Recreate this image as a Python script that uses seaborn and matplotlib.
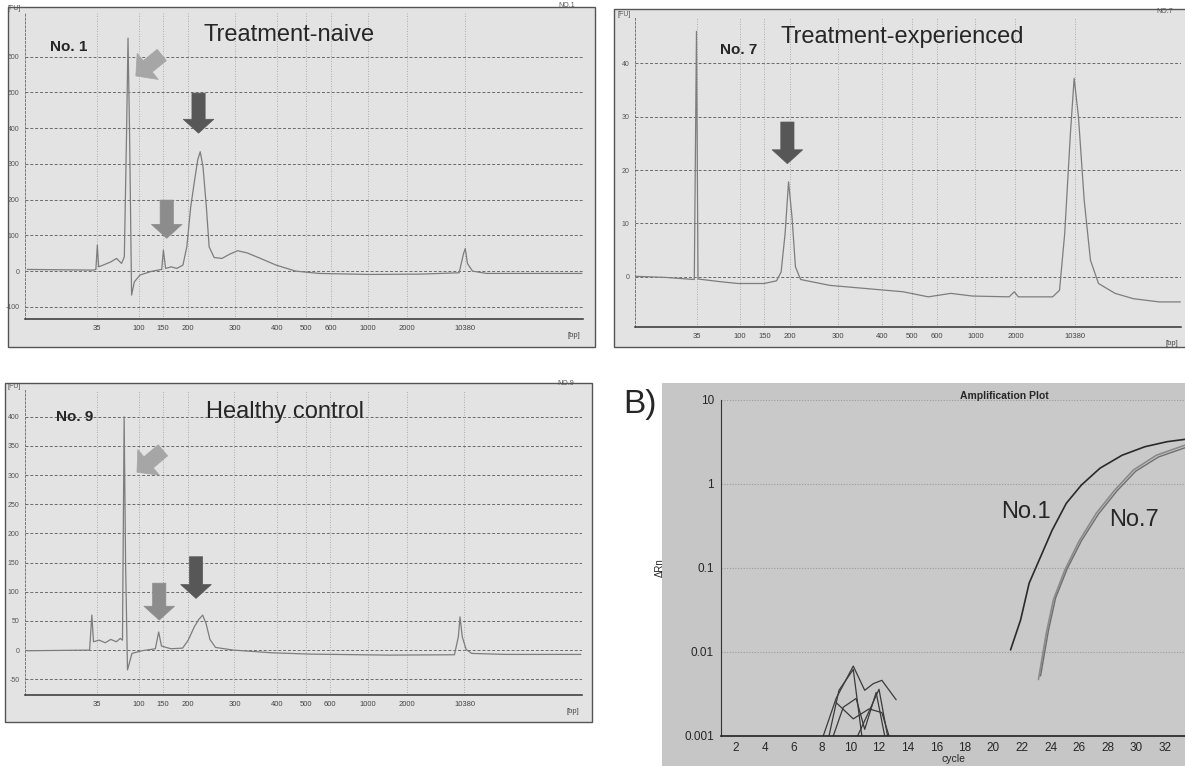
import numpy as np
import pandas as pd
import matplotlib
matplotlib.use("Agg")
import matplotlib.pyplot as plt
from matplotlib.patches import Rectangle
import seaborn as sns

sns.set_style("white")
plt.rcParams['font.family'] = ['Liberation Sans', 'DejaVu Sans']

# ---------------- data ----------------
# ladder: fragment size (bp) and migration time (s)
ladder_bp = ["35", "100", "150", "200", "300", "400", "500", "600", "1000", "2000", "10380"]
ladder_time = [42.9, 50.4, 54.7, 59.2, 67.6, 75.2, 80.4, 84.8, 91.5, 98.5, 108.9]

# No. 1 (treatment-naive) electropherogram
no1_time = [30.4, 42.3, 42.7, 42.96, 43.2, 44.0, 45.4, 46.4, 47.3, 47.8, 48.2, 48.46, 48.74, 49.1,
            49.6, 50.6, 52.7, 54.5, 54.8, 55.2, 56.2, 57.2, 58.3, 59.0, 59.7, 60.4, 60.95, 61.4,
            61.9, 62.5, 63.0, 63.9, 65.3, 66.7, 68.1, 69.8, 72.2, 75.0, 78.5, 82.7, 91.8, 100.8,
            107.8, 108.6, 108.9, 109.3, 110.2, 112.7, 129.8]
no1_fu = [4.7, 2.8, 4.7, 72.8, 12, 16.8, 26, 35.5, 21.5, 40, 385, 652, 385, -67,
          -30, -11, -0.5, 4.7, 58.8, 7.5, 12, 7.5, 16.8, 68, 180, 255, 311, 334,
          292, 180, 68, 38, 35.5, 47.6, 57, 51, 35.5, 16.8, 0, -6.5, -9.3, -8.4,
          -4.7, 49.5, 63, 21, 0, -6.5, -6.5]

# No. 7 (treatment-experienced) electropherogram
no7_time = [32.1, 37.3, 42.45, 42.83, 43.1, 46.9, 50.1, 54.6, 56.8, 57.6, 58.3, 58.9, 59.5, 60.1,
            61.0, 66.1, 72.5, 78.9, 83.3, 87.2, 91.0, 97.4, 98.3, 99.0, 105.0, 106.2, 107.1,
            108.1, 108.75, 109.5, 110.5, 111.6, 113.0, 115.9, 119.1, 123.6, 127.3]
no7_fu = [0.1, -0.1, -0.5, 46, -0.4, -0.9, -1.25, -1.25, -0.75, 0.9, 8.1, 17.8, 11.25, 1.9,
          -0.5, -1.6, -2.2, -2.8, -3.75, -3.1, -3.6, -3.75, -2.8, -3.75, -3.75, -2.5, 8.1,
          26.9, 37.2, 30, 14.4, 3.1, -1.25, -3.1, -4.1, -4.7, -4.7]

# No. 9 (healthy control) electropherogram
no9_time = [30.4, 41.6, 42.0, 42.3, 43.3, 44.4, 45.4, 46.4, 47.1, 47.5, 47.8, 48.05, 48.4, 49.2,
            51.0, 53.4, 54.0, 54.5, 56.2, 58.3, 59.3, 60.4, 61.2, 61.9, 62.5, 63.2, 64.2, 67.4,
            74.3, 81.3, 95.3, 107.1, 107.8, 108.1, 108.5, 109.2, 110.2, 116.2, 129.8]
no9_fu = [-1.1, 0, 60, 14.3, 17.1, 12.6, 18.3, 14.3, 20, 17, 400, 154, -34, -5.7,
          -1.1, 2.3, 31, 6.9, 2.3, 3.4, 17, 40, 52.6, 60, 45.7, 18.3, 4.6, 0,
          -4.6, -6.9, -8.6, -8, 22.9, 57, 22.9, 1.1, -5.7, -7.4, -7.4]

# y ticks
no1_yticks = [-100, 0, 100, 200, 300, 400, 500, 600]
no7_yticks = [0, 10, 20, 30, 40]
no9_yticks = [-50, 0, 50, 100, 150, 200, 250, 300, 350, 400]

# Amplification plot (B)
amp_no1_cycle = [21.2, 21.9, 22.5, 23.3, 24.1, 25.1, 26.15, 27.45, 29.0, 30.6, 32.15, 33.4]
amp_no1_drn = [0.0106, 0.024, 0.066, 0.136, 0.28, 0.59, 0.97, 1.54, 2.2, 2.78, 3.19, 3.4]
amp_no7a_cycle = [23.15, 23.7, 24.2, 25.0, 26.0, 27.2, 28.5, 29.8, 31.4, 33.4]
amp_no7a_drn = [0.0047, 0.0167, 0.042, 0.095, 0.21, 0.45, 0.85, 1.47, 2.2, 2.9]
amp_no7b_cycle = [23.3, 23.85, 24.35, 25.15, 26.15, 27.35, 28.65, 29.95, 31.55, 33.4]
amp_no7b_drn = [0.0052, 0.018, 0.044, 0.097, 0.21, 0.44, 0.83, 1.42, 2.1, 2.7]
noise_cycles = [[8.1, 9.0, 10.2, 11.0, 11.6, 12.2, 13.2],
                [8.5, 9.2, 10.2, 10.8],
                [9.0, 10.2, 11.3, 12.2, 12.7],
                [8.8, 9.5, 10.4, 11.0, 11.8, 12.4],
                [10.5, 11.2, 12.0, 12.6]]
noise_drn = [[0.001, 0.0028, 0.0068, 0.0035, 0.0042, 0.0046, 0.0027],
             [0.001, 0.0035, 0.0062, 0.001],
             [0.0025, 0.0016, 0.0021, 0.0019, 0.001],
             [0.001, 0.0022, 0.0028, 0.0012, 0.0033, 0.001],
             [0.001, 0.0018, 0.0036, 0.001]]
amp_xticks = list(range(2, 34, 2))
amp_yticks = [0.001, 0.01, 0.1, 1, 10]
amp_yticklabels = ["0.001", "0.01", "0.1", "1", "10"]

# ---------------- figure ----------------
W, H = 1185, 766
fig = plt.figure(figsize=(W / 100, H / 100), dpi=100)
fig.patch.set_facecolor("white")


def fbox(x0, y0, x1, y1):
    return [x0 / W, 1 - y1 / H, (x1 - x0) / W, (y1 - y0) / H]


def frame(x0, y0, x1, y1, fc="#e3e3e3"):
    b = fbox(x0, y0, x1, y1)
    fig.add_artist(Rectangle((b[0], b[1]), b[2], b[3], transform=fig.transFigure,
                             facecolor=fc, edgecolor="#555555", lw=1.0, zorder=-1))


def ftext(x, y, s, **kw):
    fig.text(x / W, 1 - y / H, s, **kw)


frame(8, 7, 595, 347)
frame(614, 9, 1190, 347)
frame(5, 383, 592, 722)
# gray scan background of panel B
fig.add_artist(Rectangle((662 / W, 0), (W - 662) / W, 1 - 383 / H, transform=fig.transFigure,
                         facecolor="#c6c6c6", edgecolor="none", zorder=-1))

trace_color = "#7d7d7d"


def electro(ax, t, fu, yticks, xlim, ylim, tag):
    df = pd.DataFrame({"t": t, "fu": fu})
    sns.lineplot(data=df, x="t", y="fu", ax=ax, color=trace_color, lw=0.9,
                 estimator=None, sort=False)
    ax.set_facecolor("#e3e3e3")
    ax.set_xlim(*xlim)
    ax.set_ylim(*ylim)
    ax.set_xticks(ladder_time)
    ax.set_xticklabels(ladder_bp, fontsize=5.5, color="#444444")
    ax.set_yticks(yticks)
    ax.set_yticklabels([str(v) for v in yticks], fontsize=5, color="#555555")
    ax.tick_params(axis="both", length=2, width=0.6, pad=2, color="#555555")
    for v in yticks:
        ax.axhline(v, color="#6a6a6a", lw=0.7, ls=(0, (3, 2)), zorder=0)
    for v in ladder_time:
        ax.axvline(v, color="#9a9a9a", lw=0.6, ls=(0, (1, 2)), zorder=0)
    for s in ["top", "right"]:
        ax.spines[s].set_visible(False)
    ax.spines["left"].set_linestyle((0, (2, 2)))
    ax.spines["left"].set_color("#777777")
    ax.spines["left"].set_linewidth(0.7)
    ax.spines["bottom"].set_color("#333333")
    ax.spines["bottom"].set_linewidth(1.1)
    ax.set_xlabel("")
    ax.set_ylabel("")
    ax.text(0.995, -0.043, "[bp]", transform=ax.transAxes, ha="right", va="top",
            fontsize=5.5, color="#444444")
    ax.text(-0.02, 1.0, "[FU]", transform=ax.transAxes, ha="center", va="bottom",
            fontsize=5, color="#555555")
    ax.text(0.985, 1.01, tag, transform=ax.transAxes, ha="right", va="bottom",
            fontsize=5, color="#555555")


def block_arrow(ax, xy, dx, dy, color, ms=10, hw=2.2):
    ax.annotate("", xy=xy, xycoords="data", xytext=(dx, dy), textcoords="offset points",
                arrowprops=dict(arrowstyle=f"simple,head_length=1.0,head_width={hw},tail_width=0.95",
                                fc=color, ec=color, lw=0.5, mutation_scale=ms,
                                shrinkA=0, shrinkB=0))


# Panel 1
ax1 = fig.add_axes(fbox(25, 12, 583, 319))
electro(ax1, no1_time, no1_fu, no1_yticks, (30, 130), (-134, 725), "NO.1")
ax1.text(34.4, 627, "No. 1", fontsize=11, fontweight="bold", va="center", ha="left")
ax1.text(77.3, 661, "Treatment-naive", fontsize=17, va="center", ha="center")
pk1 = int(np.argmax(no1_fu))
block_arrow(ax1, (no1_time[pk1] + 1.4, no1_fu[pk1] - 106), 18.7, 15.1, "#a6a6a6", ms=11)
mp1 = no1_time.index(61.4)
block_arrow(ax1, (no1_time[mp1] - 0.3, no1_fu[mp1] + 52), 0, 28.8, "#575757")
sp1 = no1_time.index(54.8)
block_arrow(ax1, (no1_time[sp1] + 0.6, no1_fu[sp1] + 33), 0, 27.5, "#8c8c8c")

# Panel 2
ax2 = fig.add_axes(fbox(635, 18, 1181, 327))
electro(ax2, no7_time, no7_fu, no7_yticks, (32.1, 127.4), (-9.4, 48.5), "NO.7")
ax2.text(46.9, 42.5, "No. 7", fontsize=11, fontweight="bold", va="center", ha="left")
ax2.text(78.8, 45.0, "Treatment-experienced", fontsize=17, va="center", ha="center")
mp2 = no7_time.index(58.9)
block_arrow(ax2, (no7_time[mp2] - 0.2, no7_fu[mp2] + 3.4), 0, 30, "#575757")

# Panel 3
ax3 = fig.add_axes(fbox(25, 390, 582, 695))
electro(ax3, no9_time, no9_fu, no9_yticks, (30, 130), (-77, 446), "NO.9")
ax3.text(35.5, 400, "No. 9", fontsize=11, fontweight="bold", va="center", ha="left")
ax3.text(76.6, 408, "Healthy control", fontsize=17, va="center", ha="center")
pk3 = int(np.argmax(no9_fu))
block_arrow(ax3, (no9_time[pk3] + 2.3, no9_fu[pk3] - 95), 18.7, 15.8, "#a6a6a6", ms=11)
mp3 = no9_time.index(61.9)
block_arrow(ax3, (no9_time[mp3] - 1.2, no9_fu[mp3] + 28.6), 0, 30, "#575757")
sp3 = no9_time.index(54.0)
block_arrow(ax3, (no9_time[sp3] + 0.1, no9_fu[sp3] + 20.4), 0, 26.6, "#8c8c8c")

# Panel B
ax4 = fig.add_axes(fbox(721, 400, 1185, 736))
ax4.set_facecolor("#c9c9c9")
for cyc, val in zip(noise_cycles, noise_drn):
    sns.lineplot(x=cyc, y=val, ax=ax4, color="#3a3a3a", lw=0.9, estimator=None, sort=False)
sns.lineplot(x=amp_no7a_cycle, y=amp_no7a_drn, ax=ax4, color="#8a8a8a", lw=1.2,
             estimator=None, sort=False)
sns.lineplot(x=amp_no7b_cycle, y=amp_no7b_drn, ax=ax4, color="#6e6e6e", lw=1.0,
             estimator=None, sort=False)
sns.lineplot(x=amp_no1_cycle, y=amp_no1_drn, ax=ax4, color="#2a2a2a", lw=1.2,
             estimator=None, sort=False)
ax4.set_yscale("log")
ax4.set_ylim(0.001, 10)
ax4.set_xlim(0.95, 33.4)
ax4.set_yticks(amp_yticks)
ax4.set_yticklabels(amp_yticklabels, fontsize=8.5)
ax4.minorticks_off()
ax4.set_xticks(amp_xticks)
ax4.set_xticklabels([str(v) for v in amp_xticks], fontsize=8.5)
ax4.tick_params(axis="x", length=3, width=0.6, pad=1)
ax4.tick_params(axis="y", length=3, width=0.6, pad=2)
for v in amp_yticks:
    ax4.axhline(v, color="#9a9a9a", lw=0.8, ls=(0, (1, 1.5)), zorder=0)
for s in ["top", "right"]:
    ax4.spines[s].set_visible(False)
ax4.spines["left"].set_linestyle((0, (1, 1)))
ax4.spines["left"].set_color("#333333")
ax4.spines["bottom"].set_color("#222222")
ax4.spines["bottom"].set_linewidth(1.2)
ax4.set_xlabel("cycle", fontsize=7.5, labelpad=0)
ax4.set_ylabel("ΔRn", fontsize=7, labelpad=14)
ax4.set_title("Amplification Plot", fontsize=7.5, fontweight="bold", pad=1, x=0.61)
ax4.text(22.3, 0.47, "No.1", fontsize=17, ha="center", va="center")
ax4.text(29.8, 0.37, "No.7", fontsize=17, ha="center", va="center")
ftext(640, 405, "B)", fontsize=24, ha="center", va="center")

fig.savefig("out.png", dpi=100)
